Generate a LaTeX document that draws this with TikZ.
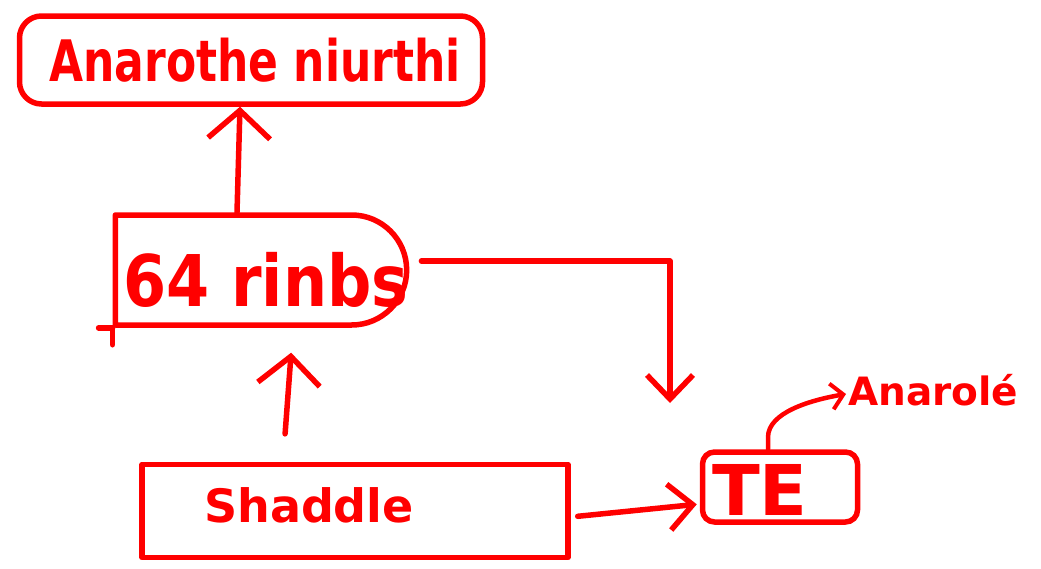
\documentclass[tikz,border=0pt]{standalone}
\usepackage{fontspec}
\setmainfont{DejaVu Sans}
\usetikzlibrary{arrows.meta,shapes.misc,calc}
\definecolor{ink}{RGB}{255,0,0}
\begin{document}
\begin{tikzpicture}[x=1pt,y=-1pt,
  pen/.style={draw=ink,line width=5.5pt,line cap=round,line join=round},
  label/.style={text=ink,inner sep=0pt,font=\bfseries},
  bigtip/.style={-{Straight Barb[length=28pt,width=62pt,line width=5.5pt]}},
  midtip/.style={-{Straight Barb[length=24pt,width=46pt,line width=5.5pt]}},
  smalltip/.style={-{Straight Barb[length=12pt,width=26pt,line width=4pt]}}]
\useasboundingbox (0,0) rectangle (1041,568);

% boxes
\node[pen,rectangle,rounded corners=22pt,minimum width=463pt,minimum height=88pt] (top) at (251,60) {};
\node[label] at (255,60) {\fontsize{44}{44}\selectfont\scalebox{1}[1.3]{Anarothe niurthi}};

\node[pen,rounded rectangle,rounded rectangle left arc=none,minimum width=298pt,minimum height=110pt] (mid) at (261,270) {};
\node[label] at (266,280) {\fontsize{62}{62}\selectfont\scalebox{1}[1.15]{64 rinbs}};

\node[pen,rectangle,minimum width=426pt,minimum height=93pt] (bot) at (355,511) {};
\node[label] at (309,505) {\fontsize{46}{46}\selectfont Shaddle};

\node[pen,rectangle,rounded corners=12pt,minimum width=155pt,minimum height=70pt] (te) at (780,487) {};
\node[label] at (760,490) {\fontsize{70}{70}\selectfont TE};

\node[label,anchor=west] (note) at (848,390) {\fontsize{39}{39}\selectfont Anarolé};

% overhanging strokes of the middle box
\draw[pen] (mid.south west) -- ++(-14,0);
\draw[pen] (mid.south west) -- ++(0,17);

% connectors
\coordinate (drop) at (670,403);
\draw[pen,bigtip] ([xshift=-24pt]mid.north) -- ([xshift=-11pt]top.south);
\draw[pen,bigtip,shorten <=28pt,shorten >=25pt] ([xshift=-72pt]bot.north) -- ([xshift=32pt]mid.south);
\draw[pen,midtip,shorten <=7pt,shorten >=3pt] ([yshift=-6pt]bot.east) -- ([yshift=-17pt]te.west);
\draw[pen,midtip,shorten <=12pt] ([yshift=9pt]mid.east) -| (drop);
\draw[pen,smalltip,line width=4.5pt] ([xshift=-12pt]te.north) -- ++(0,-12) .. controls +(0,-25) and +(-35,6) .. ([xshift=-2pt,yshift=-4pt]note.west);
\end{tikzpicture}
\end{document}
